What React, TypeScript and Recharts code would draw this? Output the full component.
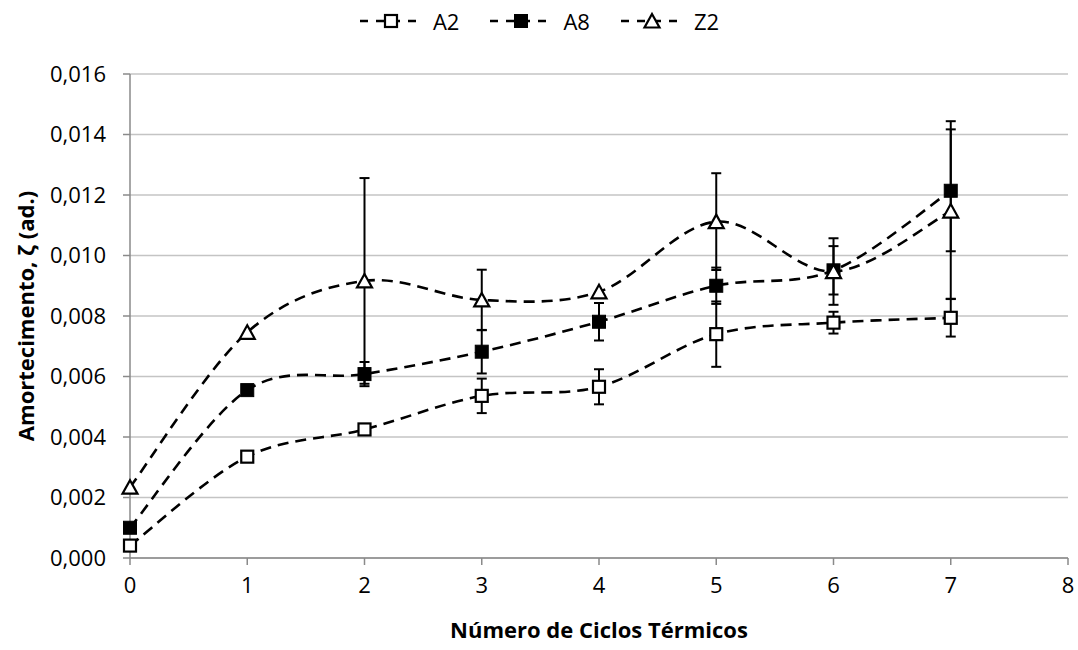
import { CartesianGrid, ErrorBar, Legend, Line, LineChart, XAxis, YAxis } from 'recharts'

const cycles = [0, 1, 2, 3, 4, 5, 6, 7]
const a2 = [0.00041, 0.00335, 0.00425, 0.00536, 0.00566, 0.0074, 0.00778, 0.00794]
const a2Err = [0, 0, 0, 0.00057, 0.00058, 0.00108, 0.00036, 0.00062]
const a8 = [0.001, 0.00555, 0.00608, 0.00682, 0.00781, 0.009, 0.00951, 0.01214]
const a8Err: (number | number[])[] = [0, 0, 0.0004, 0.00072, 0.00062, 0.0006, 0.0008, [0.002, 0.0023]]
const z2 = [0.00234, 0.00746, 0.00916, 0.00853, 0.0088, 0.01112, 0.00947, 0.01147]
const z2Err: (number | number[])[] = [0, 0, 0.0034, 0.001, 0, 0.0016, 0.0011, [0.0029, 0.0027]]
const xTicks = [0, 1, 2, 3, 4, 5, 6, 7, 8]
const yTicks = [0, 0.002, 0.004, 0.006, 0.008, 0.01, 0.012, 0.014, 0.016]

const data = cycles.map((c, i) => ({
  ciclo: c,
  A2: a2[i],
  A2err: a2Err[i],
  A8: a8[i],
  A8err: a8Err[i],
  Z2: z2[i],
  Z2err: z2Err[i],
}))

const FONT = '"Open Sans", sans-serif'
const AXIS = '#8a8a8a'
const DASH = '11 7'
const LW = 2.6

// Excel-style smoothed line (uniform Catmull-Rom as cubic bezier)
function excelSmooth(context: any) {
  let pts: [number, number][] = []
  return {
    areaStart() {},
    areaEnd() {},
    lineStart() {
      pts = []
    },
    point(x: number, y: number) {
      pts.push([+x, +y])
    },
    lineEnd() {
      if (!pts.length) return
      context.moveTo(pts[0][0], pts[0][1])
      for (let i = 0; i < pts.length - 1; i++) {
        const p0 = pts[i - 1] || pts[i]
        const p1 = pts[i]
        const p2 = pts[i + 1]
        const p3 = pts[i + 2] || p2
        context.bezierCurveTo(
          p1[0] + (p2[0] - p0[0]) / 6,
          p1[1] + (p2[1] - p0[1]) / 6,
          p2[0] - (p3[0] - p1[0]) / 6,
          p2[1] - (p3[1] - p1[1]) / 6,
          p2[0],
          p2[1],
        )
      }
    },
  }
}

function Marker({ kind, cx, cy }: { kind: string; cx: number; cy: number }) {
  if (kind === 'open') {
    return <rect x={cx - 6} y={cy - 6} width={12} height={12} fill="#fff" stroke="#000" strokeWidth={2.2} />
  }
  if (kind === 'filled') {
    return <rect x={cx - 6.5} y={cy - 6.5} width={13} height={13} fill="#000" stroke="#000" strokeWidth={1} />
  }
  return (
    <polygon
      points={`${cx},${cy - 7} ${cx + 7.5},${cy + 6.5} ${cx - 7.5},${cy + 6.5}`}
      fill="#fff"
      stroke="#000"
      strokeWidth={2.2}
      strokeLinejoin="miter"
    />
  )
}

function dotFor(kind: string) {
  return (props: any) => {
    const { cx, cy, index } = props
    if (cx == null || cy == null) return <g key={`${kind}-${index}`} />
    return (
      <g key={`${kind}-${index}`}>
        <Marker kind={kind} cx={cx} cy={cy} />
      </g>
    )
  }
}

const legendItems = [
  { name: 'A2', kind: 'open' },
  { name: 'A8', kind: 'filled' },
  { name: 'Z2', kind: 'triangle' },
]

function renderLegend() {
  return (
    <div style={{ display: 'flex', justifyContent: 'center', alignItems: 'center', gap: 30, fontFamily: FONT, fontSize: 22 }}>
      {legendItems.map((item) => (
        <div key={item.name} style={{ display: 'flex', alignItems: 'center' }}>
          <svg width={64} height={20}>
            <line x1={0} y1={10} x2={64} y2={10} stroke="#000" strokeWidth={LW} strokeDasharray="8 8" strokeDashoffset={-1} />
            <Marker kind={item.kind} cx={32} cy={10} />
          </svg>
          <span style={{ marginLeft: 10, color: '#000' }}>{item.name}</span>
        </div>
      ))}
    </div>
  )
}

const fmt = (v: number) => v.toFixed(3).replace('.', ',')

export default function App() {
  return (
    <div style={{ position: 'absolute', left: 0, top: 0, width: 1078, height: 650, background: '#fff' }}>
      <LineChart width={1078} height={650} data={data} margin={{ top: 74, right: 10, bottom: 12, left: 0 }}>
        <CartesianGrid stroke="#c4c4c4" strokeWidth={1.5} vertical={false} />
        <XAxis
          dataKey="ciclo"
          type="number"
          domain={[0, 8]}
          ticks={xTicks}
          interval={0}
          height={80}
          tickSize={7}
          tickMargin={12}
          stroke={AXIS}
          axisLine={{ stroke: AXIS, strokeWidth: 1.5 }}
          tickLine={{ stroke: AXIS, strokeWidth: 1.5 }}
          tick={{ fontSize: 22, fill: '#000', fontFamily: FONT }}
          label={{
            value: 'Número de Ciclos Térmicos',
            position: 'insideBottom',
            offset: 0,
            style: { fontSize: 22, fontWeight: 700, fill: '#000', fontFamily: FONT },
          }}
        />
        <YAxis
          type="number"
          domain={[0, 0.016]}
          ticks={yTicks}
          interval={0}
          width={130}
          tickSize={7}
          tickMargin={17}
          tickFormatter={fmt}
          axisLine={{ stroke: AXIS, strokeWidth: 1.5 }}
          tickLine={{ stroke: AXIS, strokeWidth: 1.5 }}
          tick={{ fontSize: 22, fill: '#000', fontFamily: FONT }}
          label={{
            value: 'Amortecimento, ζ (ad.)',
            angle: -90,
            position: 'insideLeft',
            offset: 26,
            style: { fontSize: 22, fontWeight: 700, fill: '#000', fontFamily: FONT, textAnchor: 'middle' },
          }}
        />
        <Legend
          content={renderLegend}
          layout="horizontal"
          verticalAlign="middle"
          align="center"
          wrapperStyle={{ top: 6, left: 0, width: 1078 }}
        />
        <Line
          dataKey="A2"
          type={excelSmooth as any}
          stroke="#000"
          strokeWidth={LW}
          strokeDasharray={DASH}
          dot={dotFor('open')}
          activeDot={false}
          isAnimationActive={false}
        >
          <ErrorBar dataKey="A2err" direction="y" width={5} stroke="#000" strokeWidth={2} />
        </Line>
        <Line
          dataKey="A8"
          type={excelSmooth as any}
          stroke="#000"
          strokeWidth={LW}
          strokeDasharray={DASH}
          dot={dotFor('filled')}
          activeDot={false}
          isAnimationActive={false}
        >
          <ErrorBar dataKey="A8err" direction="y" width={5} stroke="#000" strokeWidth={2} />
        </Line>
        <Line
          dataKey="Z2"
          type={excelSmooth as any}
          stroke="#000"
          strokeWidth={LW}
          strokeDasharray={DASH}
          dot={dotFor('triangle')}
          activeDot={false}
          isAnimationActive={false}
        >
          <ErrorBar dataKey="Z2err" direction="y" width={5} stroke="#000" strokeWidth={2} />
        </Line>
      </LineChart>
    </div>
  )
}
